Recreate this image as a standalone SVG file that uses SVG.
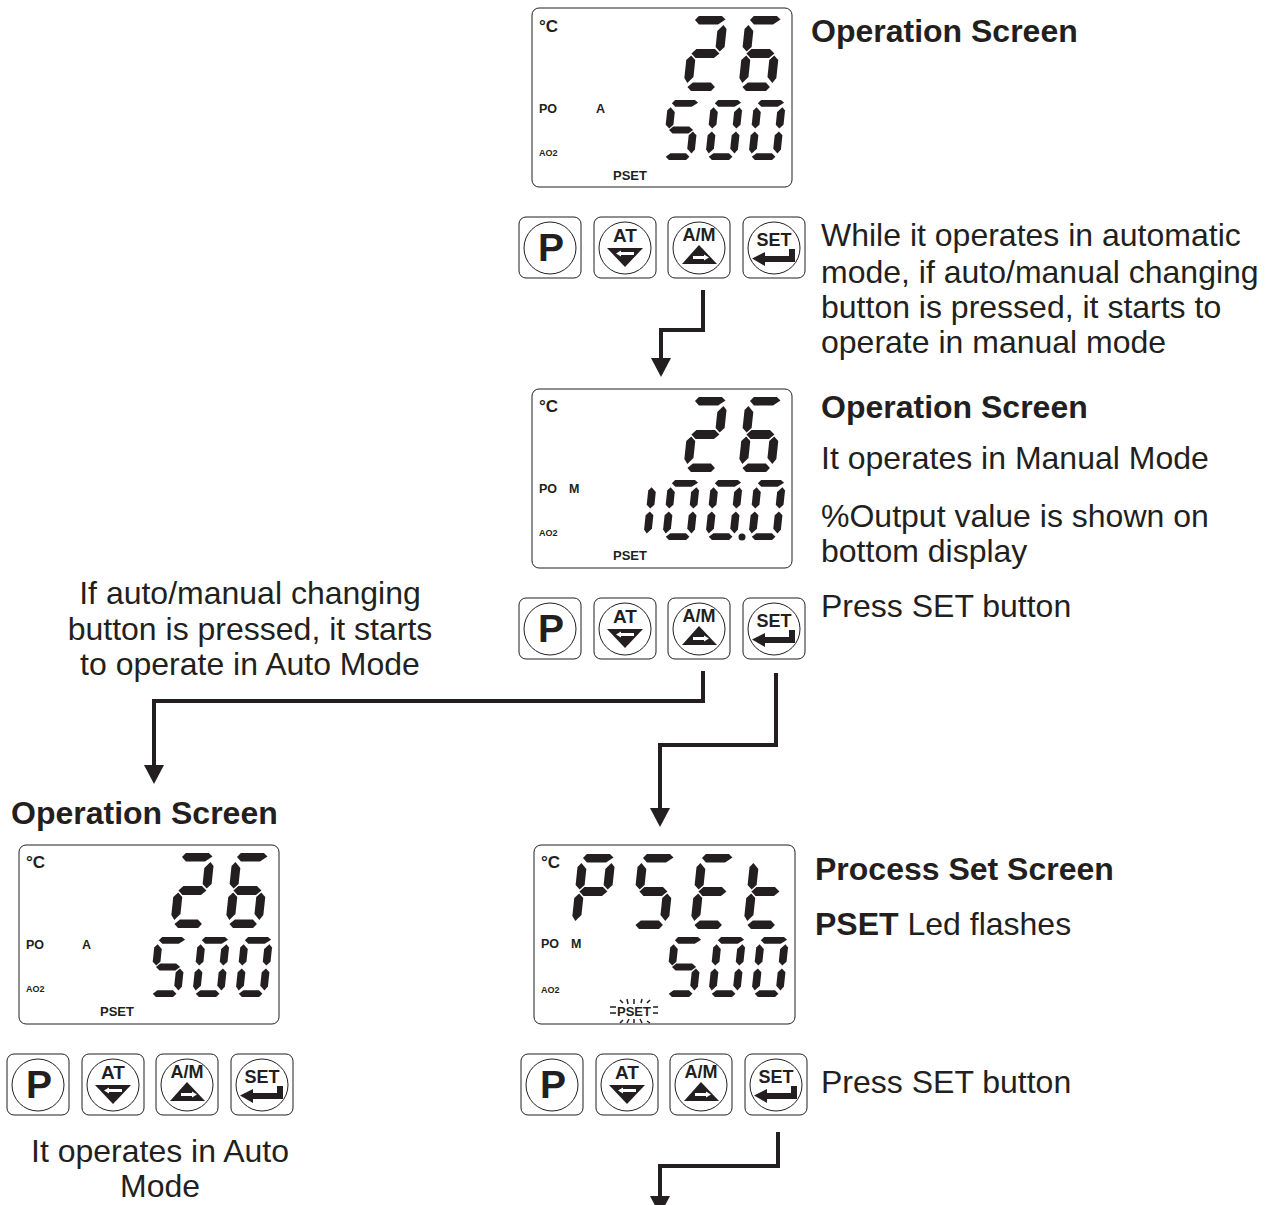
<svg xmlns="http://www.w3.org/2000/svg" width="1266" height="1205" viewBox="0 0 1266 1205">
<style>
text{font-family:"Liberation Sans",Arial,sans-serif;fill:#231f20}
.t{font-size:32px}
.h{font-size:32px;font-weight:bold}
.c{text-anchor:middle}
.b{font-weight:bold}
.frame{fill:#fff;stroke:#231f20;stroke-width:1}
.seg{fill:#231f20}
.conn{fill:none;stroke:#231f20;stroke-width:4}
</style>
<defs>
<polygon id="sa" points="8,-75 31,-75 35,-71.500 28,-66.500 9,-66.500 4.500,-71"/>
<polygon id="sb" points="33.500,-66 37,-62 37,-44 32.500,-39.500 28,-44 28,-60"/>
<polygon id="sc" points="32.500,-35.500 37,-31 37,-13 33.500,-8 28,-14 28,-31"/>
<polygon id="sd" points="9,-8.500 27,-8.500 31.500,-4 28,0 8,0 4,-4"/>
<polygon id="se" points="4.500,-35.500 9,-31 9,-14 3.500,-8 0,-13 0,-31"/>
<polygon id="sf" points="3.500,-66 9,-60 9,-44 4.500,-39.500 0,-44 0,-62"/>
<polygon id="sg" points="9,-42 27.500,-42 32.500,-37.500 27.500,-33 9,-33 4.500,-37.500"/>
<g id="d2" class="seg"><use href="#sa"/><use href="#sb"/><use href="#sg"/><use href="#se"/><use href="#sd"/></g>
<g id="d6" class="seg"><use href="#sa"/><use href="#sf"/><use href="#sg"/><use href="#se"/><use href="#sc"/><use href="#sd"/></g>
<g id="d5" class="seg"><use href="#sa"/><use href="#sf"/><use href="#sg"/><use href="#sc"/><use href="#sd"/></g>
<g id="d0" class="seg"><use href="#sa"/><use href="#sb"/><use href="#sc"/><use href="#sd"/><use href="#se"/><use href="#sf"/></g>
<g id="d1" class="seg"><use href="#se"/><use href="#sf"/></g>
<g id="dP" class="seg"><use href="#sa"/><use href="#sb"/><use href="#sf"/><use href="#sg"/><use href="#se"/></g>
<g id="dE" class="seg"><use href="#sa"/><use href="#sf"/><use href="#sg"/><use href="#se"/><use href="#sd"/></g>
<g id="dt" class="seg"><use href="#sf"/><use href="#sg"/><use href="#se"/><use href="#sd"/></g>
<g id="v26">
<use href="#d2" transform="translate(683,91) skewX(-6)"/>
<use href="#d6" transform="translate(738,91) skewX(-6)"/>
</g>
<g id="v500">
<use href="#d5" transform="translate(662,160) skewX(-6) scale(.86,.8)"/>
<use href="#d0" transform="translate(705,160) skewX(-6) scale(.86,.8)"/>
<use href="#d0" transform="translate(748,160) skewX(-6) scale(.86,.8)"/>
</g>
<rect id="lcdf" class="frame" x="532" y="8" width="260" height="179" rx="7"/>
<g id="lcdt">
<text x="539" y="32" font-size="17" class="b">°C</text>
<text x="539" y="113" font-size="12.500" class="b">PO</text>
<text x="539" y="156" font-size="9" class="b">AO2</text>
<text x="613" y="180" font-size="13" class="b">PSET</text>
</g>
<g id="btns">
<rect class="frame" x="519" y="217" width="62" height="61" rx="7"/>
<circle class="frame" cx="550" cy="248" r="26"/>
<text x="551" y="261" font-size="39" class="b c">P</text>
<rect class="frame" x="594" y="217" width="62" height="61" rx="7"/>
<circle class="frame" cx="625" cy="248" r="26"/>
<text x="625" y="242" font-size="19" class="b c">AT</text>
<polygon class="seg" points="607,248 643,248 625,267"/>
<polygon fill="#fff" points="616,253.500 621,250.500 621,252 634,252 634,255 621,255 621,256.500"/>
<rect class="frame" x="668" y="217" width="62" height="61" rx="7"/>
<circle class="frame" cx="699" cy="248" r="26"/>
<text x="699" y="241" font-size="18" class="b c">A/M</text>
<polygon class="seg" points="699,245 717,264 682,264"/>
<polygon fill="#fff" points="709,257.500 704,254.500 704,256 693,256 693,259 704,259 704,260.500"/>
<rect class="frame" x="743" y="217" width="62" height="61" rx="7"/>
<circle class="frame" cx="774" cy="248" r="26"/>
<text x="774" y="246" font-size="18" class="b c">SET</text>
<polygon class="seg" points="752,258.500 765,252 765,256 789,256 789,249 795,249 795,262 765,262 765,266"/>
</g>
<marker id="ah" markerUnits="userSpaceOnUse" markerWidth="19" markerHeight="20" refX="0" refY="10" orient="auto" viewBox="0 0 19 20"><polygon class="seg" points="0,0 19,10 0,20"/></marker>
</defs>

<g id="display-top"><use href="#lcdf"/><use href="#lcdt"/><use href="#v26"/><use href="#v500"/><text x="596" y="113" font-size="12.500" class="b">A</text></g>
<g id="buttons-top"><use href="#btns"/></g>
<g id="display-manual"><use href="#lcdf" y="381"/><use href="#lcdt" y="380"/><use href="#v26" y="381"/>
<use href="#d1" transform="translate(643,540) skewX(-6) scale(.86,.8)"/>
<use href="#d0" transform="translate(662,540) skewX(-6) scale(.86,.8)"/>
<use href="#d0" transform="translate(705,540) skewX(-6) scale(.86,.8)"/>
<use href="#d0" transform="translate(748,540) skewX(-6) scale(.86,.8)"/>
<circle class="seg" cx="742" cy="537" r="3.500"/>
<text x="569" y="493" font-size="12.500" class="b">M</text></g>
<g id="buttons-manual"><use href="#btns" y="381"/></g>
<g id="display-auto"><use href="#lcdf" x="-513" y="837"/><use href="#lcdt" x="-513" y="836"/><use href="#v26" x="-513" y="837"/><use href="#v500" x="-513" y="837"/><text x="82" y="949" font-size="12.500" class="b">A</text></g>
<g id="buttons-auto"><use href="#btns" x="-512" y="837"/></g>
<g id="display-pset"><rect class="frame" x="534" y="845" width="261" height="179" rx="7"/>
<text x="541" y="868" font-size="17" class="b">°C</text>
<text x="541" y="948" font-size="12.500" class="b">PO</text>
<text x="571" y="948" font-size="12.500" class="b">M</text>
<text x="541" y="993" font-size="9" class="b">AO2</text>
<use href="#dP" transform="translate(571,929) skewX(-6)"/>
<use href="#d5" transform="translate(631,929) skewX(-6)"/>
<use href="#dE" transform="translate(690,929) skewX(-6)"/>
<use href="#dt" transform="translate(743,929) skewX(-6)"/>
<use href="#v500" x="3" y="837"/>
<text x="617" y="1016" font-size="13" class="b">PSET</text>
<path fill="none" stroke="#231f20" stroke-width="1.500" d="M610 1007h6M610 1013h6M653 1007h5M653 1013h5M620 1000l3 3M627 999l1 5M634 999v5M641 1003l1-4M650 1000l-3 3M620 1023l3-3M627 1023l2-4M634 1023v-4M642 1023l-2-4M650 1023l-3-2"/></g>
<g id="buttons-pset"><use href="#btns" x="2" y="837"/></g>

<g id="connectors">
<path class="conn" marker-end="url(#ah)" d="M703 290V330H661V358"/>
<path class="conn" marker-end="url(#ah)" d="M703 671V701H154V765"/>
<path class="conn" marker-end="url(#ah)" d="M776 673V745H660V808"/>
<path class="conn" marker-end="url(#ah)" d="M778 1132V1166H660V1196"/>
</g>

<g id="labels">
<text x="811" y="42" class="h">Operation Screen</text>
<text x="821" y="246" class="t">While it operates in automatic</text>
<text x="821" y="283" class="t">mode, if auto/manual changing</text>
<text x="821" y="318" class="t">button is pressed, it starts to</text>
<text x="821" y="353" class="t">operate in manual mode</text>
<text x="821" y="418" class="h">Operation Screen</text>
<text x="821" y="469" class="t">It operates in Manual Mode</text>
<text x="821" y="527" class="t">%Output value is shown on</text>
<text x="821" y="562" class="t">bottom display</text>
<text x="821" y="617" class="t">Press SET button</text>
<text x="250" y="604" class="t c">If auto/manual changing</text>
<text x="250" y="640" class="t c">button is pressed, it starts</text>
<text x="250" y="675" class="t c">to operate in Auto Mode</text>
<text x="11" y="824" class="h">Operation Screen</text>
<text x="815" y="880" class="h">Process Set Screen</text>
<text x="815" y="935" class="t"><tspan class="b">PSET</tspan> Led flashes</text>
<text x="821" y="1093" class="t">Press SET button</text>
<text x="160" y="1162" class="t c">It operates in Auto</text>
<text x="160" y="1197" class="t c">Mode</text>
</g>
</svg>
